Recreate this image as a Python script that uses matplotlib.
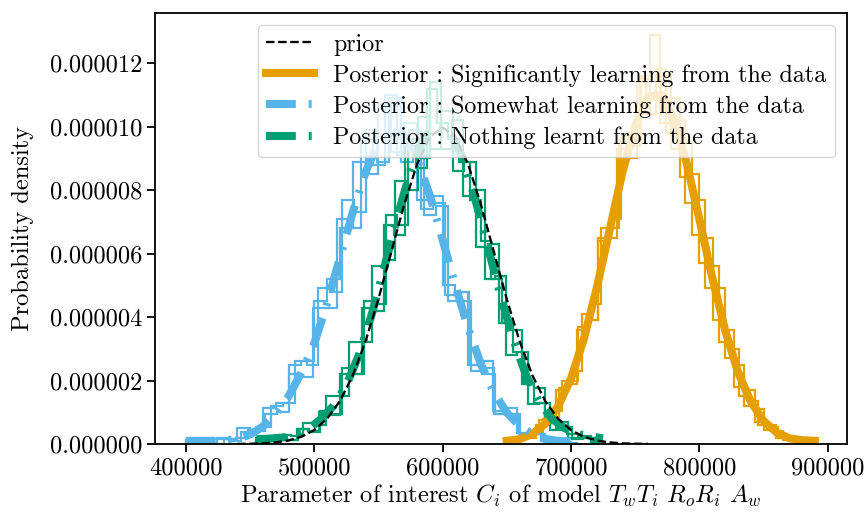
import numpy as np
import matplotlib
matplotlib.use("Agg")
import matplotlib.pyplot as plt
from matplotlib.ticker import FormatStrFormatter

plt.rcParams['font.family'] = 'serif'
plt.rcParams['font.serif'] = ['cmr10']
plt.rcParams['mathtext.fontset'] = 'cm'
plt.rcParams['axes.formatter.use_mathtext'] = True
plt.rcParams['axes.unicode_minus'] = False

UNIT = 1e-6  # densities below are given in units of 1e-6

# ---------------- data ----------------
labels = ["prior",
          "Posterior : Significantly learning from the data",
          "Posterior : Somewhat learning from the data",
          "Posterior : Nothing learnt from the data"]
colors = ["black", "#E69F00", "#56B4E9", "#009E73"]

# prior curve
prior_x = np.arange(440000, 760001, 10000)
prior_y = [0.003, 0.009, 0.022, 0.051, 0.111, 0.227, 0.438, 0.794, 1.350, 2.158, 3.238,
           4.566, 6.049, 7.528, 8.802, 9.667, 9.974, 9.667, 8.802, 7.528, 6.049, 4.566,
           3.238, 2.158, 1.350, 0.794, 0.438, 0.227, 0.111, 0.051, 0.022, 0.009, 0.003]

# posterior curves
orange_x = np.arange(650000, 890001, 10000)
orange_y = [0.10, 0.15, 0.32, 0.64, 1.19, 2.06, 3.30, 4.90, 6.72, 8.54, 10.04, 10.93, 11.01,
            10.27, 8.87, 7.09, 5.25, 3.60, 2.28, 1.34, 0.73, 0.37, 0.18, 0.12, 0.10]

blue_x = np.arange(400000, 700001, 10000)
blue_y = [0.10, 0.10, 0.10, 0.12, 0.15, 0.30, 0.55, 0.95, 1.50, 2.25, 3.16, 4.43, 5.86,
          7.30, 8.57, 9.49, 9.89, 9.71, 8.99, 7.84, 6.44, 4.99, 3.64, 2.50, 1.62, 0.99,
          0.57, 0.31, 0.16, 0.10, 0.08]

green_x = np.arange(455000, 725001, 10000)
green_y = [0.15, 0.17, 0.20, 0.28, 0.45, 0.78, 1.20, 1.85, 2.82, 4.11, 5.62, 7.19, 8.60,
           9.63, 10.09, 9.89, 9.07, 7.78, 6.25, 4.70, 3.30, 2.17, 1.34, 0.80, 0.50, 0.32,
           0.24, 0.18]

# histogram chains: (range) and 30 bin heights each
orange_ranges = [(648000, 892000), (655000, 884000), (660000, 888000)]
orange_hists = [
    [0.07, 0.20, 0.20, 0.60, 0.70, 1.70, 1.90, 3.60, 3.90, 6.50, 6.80, 9.60, 9.40, 11.5, 10.4,
     11.6, 9.30, 9.50, 6.60, 6.50, 3.90, 3.60, 1.80, 1.70, 0.70, 0.60, 0.20, 0.20, 0.05, 0.05],
    [0.12, 0.28, 0.38, 0.80, 1.05, 2.00, 2.30, 4.10, 4.40, 6.80, 7.10, 9.70, 9.50, 11.6, 12.9,
     10.1, 10.9, 8.40, 8.50, 5.70, 5.60, 3.20, 3.00, 1.50, 1.35, 0.60, 0.55, 0.20, 0.17, 0.05],
    [0.22, 0.30, 0.75, 0.85, 1.75, 2.00, 3.70, 3.90, 6.40, 6.50, 9.30, 9.00, 11.4, 10.4, 11.8,
     9.80, 10.2, 7.60, 7.70, 4.90, 4.90, 2.70, 2.50, 1.20, 1.10, 0.45, 0.40, 0.14, 0.13, 0.04],
]

blue_ranges = [(400000, 700000), (415000, 695000), (430000, 705000)]
blue_hists = [
    [0.12, 0.03, 0.15, 0.15, 0.50, 0.45, 1.15, 1.30, 2.50, 2.60, 4.50, 5.20, 6.80, 8.90, 8.50,
     10.7, 9.20, 10.1, 7.70, 7.80, 5.00, 4.80, 2.50, 2.40, 0.95, 0.95, 0.28, 0.30, 0.06, 0.07],
    [0.04, 0.18, 0.10, 0.38, 0.40, 0.95, 1.00, 2.20, 2.10, 4.30, 4.30, 7.10, 6.80, 9.60, 8.80,
     11.0, 9.10, 9.90, 7.40, 7.60, 4.70, 4.80, 2.50, 2.60, 1.05, 1.15, 0.35, 0.40, 0.10, 0.12],
    [0.15, 0.18, 0.45, 0.55, 1.20, 1.30, 2.60, 2.50, 4.90, 4.80, 7.70, 7.30, 9.90, 8.90, 10.9,
     8.90, 9.60, 7.20, 7.50, 4.50, 4.50, 2.30, 2.20, 0.95, 0.90, 0.32, 0.32, 0.08, 0.08, 0.03],
]

green_ranges = [(455000, 725000), (462000, 718000), (470000, 722000)]
green_hists = [
    [0.18, 0.08, 0.28, 0.25, 0.65, 0.60, 1.50, 1.50, 3.20, 3.20, 5.60, 5.80, 8.30, 8.00, 10.3,
     9.30, 10.5, 8.60, 8.90, 6.20, 6.30, 3.80, 3.60, 1.90, 1.75, 0.65, 0.70, 0.20, 0.24, 0.05],
    [0.08, 0.22, 0.13, 0.48, 0.38, 1.05, 0.95, 2.40, 2.20, 4.50, 4.40, 7.20, 6.90, 9.60, 9.00,
     11.4, 9.30, 10.2, 7.80, 8.00, 5.20, 5.30, 2.80, 2.90, 1.25, 1.30, 0.45, 0.52, 0.17, 0.20],
    [0.24, 0.12, 0.46, 0.40, 1.00, 0.90, 2.20, 2.20, 4.30, 4.20, 6.90, 6.60, 9.40, 8.70, 11.2,
     10.1, 9.60, 8.90, 7.70, 6.40, 5.20, 3.80, 2.90, 1.90, 1.30, 0.80, 0.50, 0.30, 0.18, 0.18],
]

xticks = [400000, 500000, 600000, 700000, 800000, 900000]
yticks = [0, 2e-6, 4e-6, 6e-6, 8e-6, 10e-6, 12e-6]

# ---------------- plot ----------------
FS = 17.6
LFS = 17.3
fig = plt.figure(figsize=(8.64, 5.13), dpi=100)
ax = fig.add_axes([0.1794, 0.1345, 0.8009, 0.8402])

dash_dot = (0, (3.7, 1.6, 0.37, 1.6))
groups = [
    (orange_ranges, orange_hists, orange_x, orange_y, colors[1], '-', labels[1]),
    (blue_ranges, blue_hists, blue_x, blue_y, colors[2], dash_dot, labels[2]),
    (green_ranges, green_hists, green_x, green_y, colors[3], dash_dot, labels[3]),
]
handles = {}
for rngs, hists, cx, cy, col, ls, lab in groups:
    for (lo, hi), h in zip(rngs, hists):
        edges = np.linspace(lo, hi, len(h) + 1)
        ax.stairs(np.array(h) * UNIT, edges, baseline=0, fill=False,
                  color=col, linewidth=1.6, zorder=1)
    ln, = ax.plot(cx, np.array(cy) * UNIT, color=col, linestyle=ls, linewidth=5.8,
                  label=lab, zorder=2)
    handles[lab] = ln

pl, = ax.plot(prior_x, np.array(prior_y) * UNIT, color='black', linestyle='--',
              linewidth=1.65, label=labels[0], zorder=3)
handles[labels[0]] = pl

ax.set_xlim(376000, 915000)
ax.set_ylim(0, 13.58e-6)
ax.set_xticks(xticks)
ax.set_yticks(yticks)
ax.yaxis.set_major_formatter(FormatStrFormatter('%.6f'))
ax.xaxis.set_major_formatter(FormatStrFormatter('%d'))
ax.tick_params(labelsize=FS, length=5.8, width=1.3)
for s in ax.spines.values():
    s.set_linewidth(1.3)

ax.set_xlabel(r"Parameter of interest $C_i$ of model $T_wT_i$ $R_oR_i$ $A_w$",
              fontsize=FS, labelpad=3)
ax.set_ylabel("Probability density", fontsize=FS, labelpad=11)

ax.legend([handles[l] for l in labels], labels, loc='upper right', fontsize=LFS,
          labelspacing=0.36, borderpad=0.35)

fig.savefig("out.png", dpi=100)
